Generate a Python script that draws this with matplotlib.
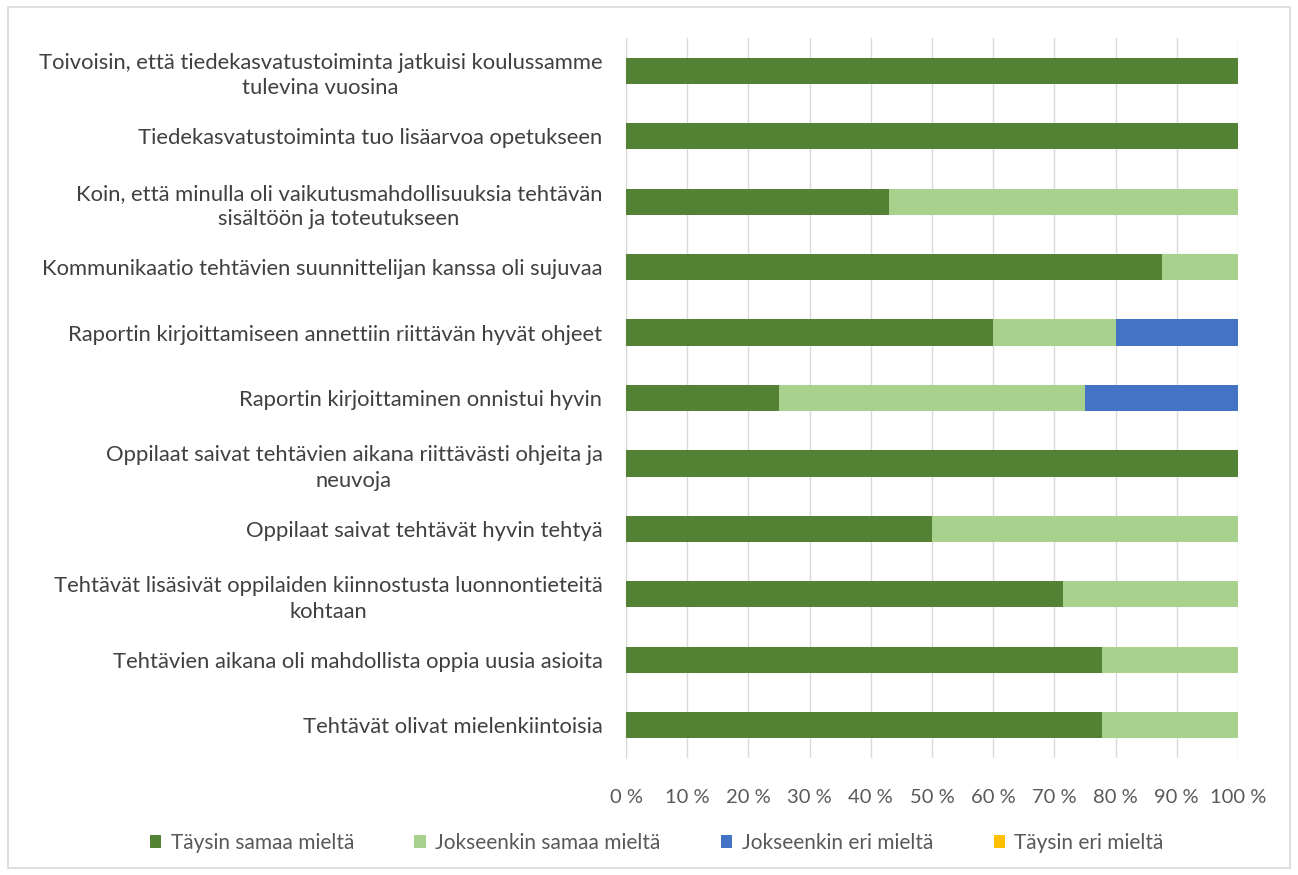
import matplotlib
matplotlib.use("Agg")
import matplotlib.pyplot as plt
from matplotlib.patches import Rectangle
from matplotlib.ticker import FuncFormatter

plt.rcParams['font.family'] = ['Lato', 'DejaVu Sans']

categories = [
    "Toivoisin, että tiedekasvatustoiminta jatkuisi koulussamme\ntulevina vuosina",
    "Tiedekasvatustoiminta tuo lisäarvoa opetukseen",
    "Koin, että minulla oli vaikutusmahdollisuuksia tehtävän\nsisältöön ja toteutukseen",
    "Kommunikaatio tehtävien suunnittelijan kanssa oli sujuvaa",
    "Raportin kirjoittamiseen annettiin riittävän hyvät ohjeet",
    "Raportin kirjoittaminen onnistui hyvin",
    "Oppilaat saivat tehtävien aikana riittävästi ohjeita ja\nneuvoja",
    "Oppilaat saivat tehtävät hyvin tehtyä",
    "Tehtävät lisäsivät oppilaiden kiinnostusta luonnontieteitä\nkohtaan",
    "Tehtävien aikana oli mahdollista oppia uusia asioita",
    "Tehtävät olivat mielenkiintoisia",
]

taysin_samaa = [100, 100, 42.9, 87.5, 60, 25, 100, 50, 71.4, 77.8, 77.8]
jokseenkin_samaa = [0, 0, 57.1, 12.5, 20, 50, 0, 50, 28.6, 22.2, 22.2]
jokseenkin_eri = [0, 0, 0, 0, 20, 25, 0, 0, 0, 0, 0]
taysin_eri = [0, 0, 0, 0, 0, 0, 0, 0, 0, 0, 0]

series = [
    ("Täysin samaa mieltä", taysin_samaa, "#548235"),
    ("Jokseenkin samaa mieltä", jokseenkin_samaa, "#A9D18E"),
    ("Jokseenkin eri mieltä", jokseenkin_eri, "#4472C4"),
    ("Täysin eri mieltä", taysin_eri, "#FFC000"),
]

fig = plt.figure(figsize=(12.98, 8.75), dpi=100)
fig.patches.append(Rectangle((0.006, 0.008), 0.988, 0.984, transform=fig.transFigure,
                             fill=False, edgecolor="#d9d9d9", linewidth=1.2))

ax = fig.add_axes([626 / 1298, 1 - 758 / 875, 612 / 1298, 720 / 875])

y = list(range(len(categories)))
left = [0] * len(categories)
for name, vals, color in series:
    ax.barh(y, vals, left=left, height=0.4, color=color, label=name, zorder=3)
    left = [a + b for a, b in zip(left, vals)]

ax.set_ylim(len(categories) - 0.5, -0.5)
ax.set_xlim(0, 100)
ax.set_xticks(range(0, 101, 10))
ax.xaxis.set_major_formatter(FuncFormatter(lambda v, p: f"{int(v)} %"))
ax.set_yticks(y)
ax.set_yticklabels(categories, ha="right", multialignment="center", linespacing=1.35)
ax.tick_params(axis="y", length=0, pad=17, labelsize=15.8, labelcolor="#404040")
ax.tick_params(axis="x", length=0, pad=22, labelsize=14.5, labelcolor="#595959")

ax.grid(axis="x", color="#d9d9d9", linewidth=1, zorder=0)
for s in ["top", "right", "bottom"]:
    ax.spines[s].set_visible(False)
ax.spines["left"].set_color("#d9d9d9")

handles, labels = ax.get_legend_handles_labels()
fig.legend(handles, labels, loc="center", bbox_to_anchor=(0.506, 1 - 843 / 875), ncol=4,
           frameon=False, fontsize=15, handlelength=0.55, handleheight=0.55,
           handletextpad=0.45, columnspacing=2.9, labelcolor="#595959")

fig.savefig("out.png", dpi=100)
